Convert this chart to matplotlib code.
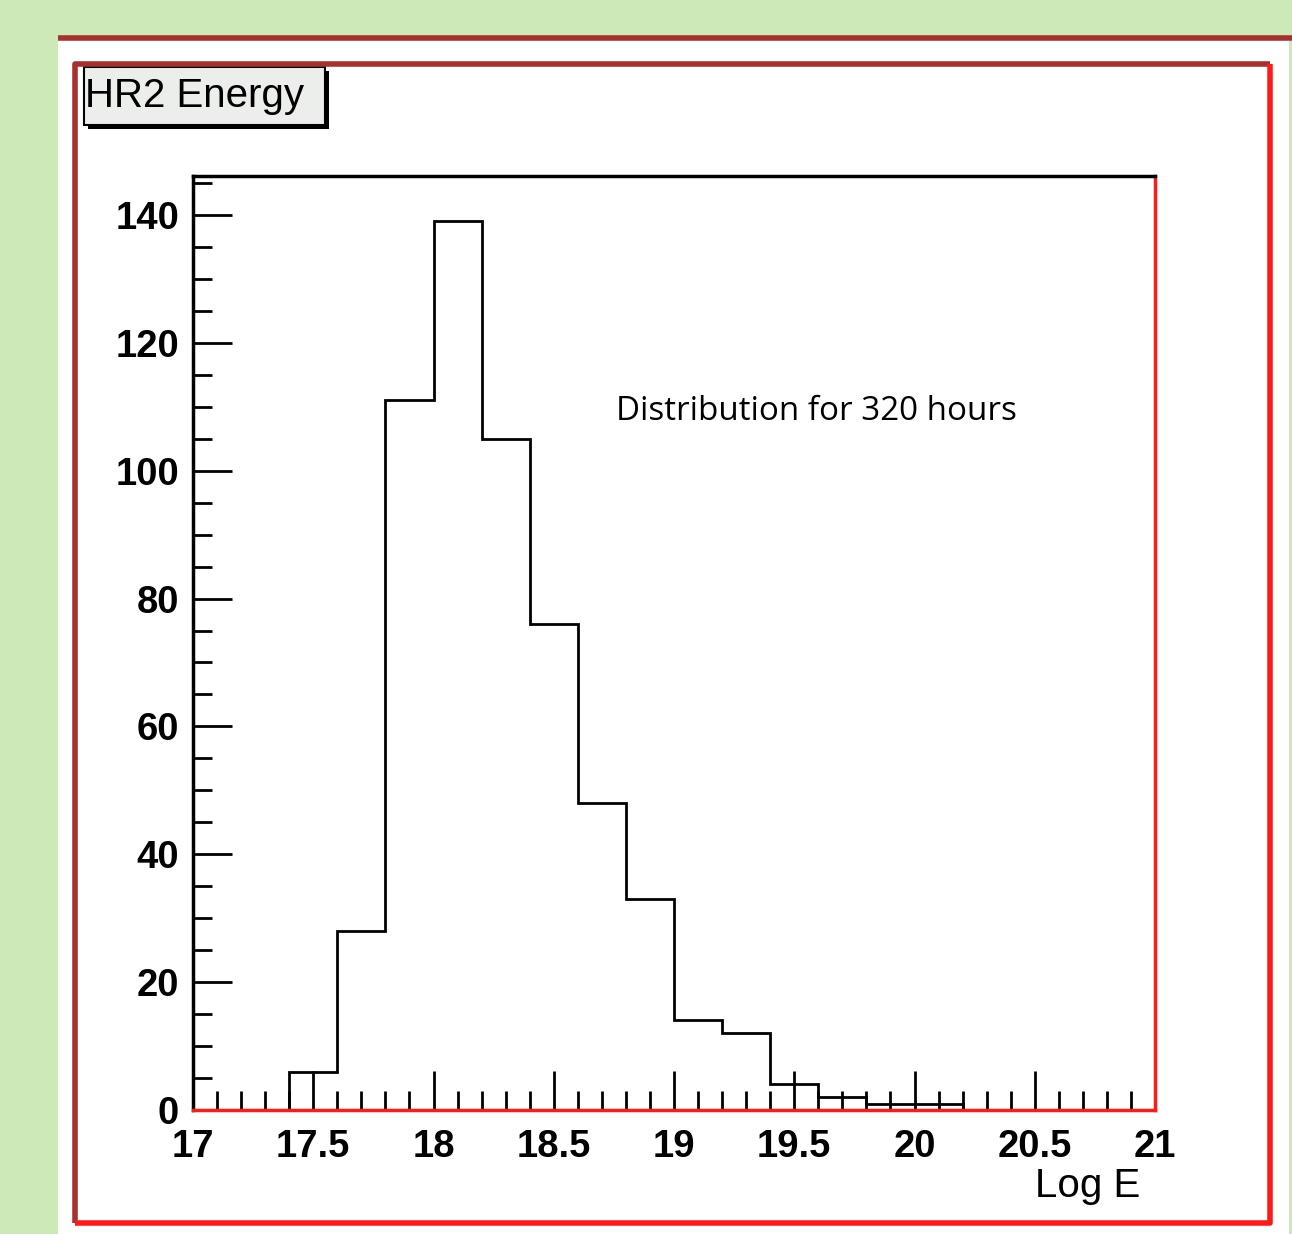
import numpy as np
import matplotlib.pyplot as plt
from matplotlib.patches import Rectangle
from matplotlib.ticker import MultipleLocator

# histogram of log energy, bins of 0.2
bin_edges = [17.4, 17.6, 17.8, 18.0, 18.2, 18.4, 18.6, 18.8, 19.0,
             19.2, 19.4, 19.6, 19.8, 20.0, 20.2]
counts = [6, 28, 111, 139, 105, 76, 48, 33, 14, 12, 4, 2, 1, 1]

title = 'HR2 Energy'
note = 'Distribution for 320 hours'
xlabel = 'Log E'

W, H = 1292, 1234
fig = plt.figure(figsize=(W / 100, H / 100), dpi=100)
fig.patch.set_facecolor('#cde9b8')

# page decoration in pixel coords
bg = fig.add_axes([0, 0, 1, 1])
bg.set_xlim(0, W)
bg.set_ylim(H, 0)
bg.axis('off')
bg.add_patch(Rectangle((58, 37), 1231, H - 37, facecolor='white', edgecolor='none'))
bg.plot([58, W], [37.5, 37.5], color='#a8302e', lw=4, solid_capstyle='butt')
bg.plot([74.5, 74.5, 1269.5], [1222.5, 63.5, 63.5], color='#a8302e', lw=4, solid_capstyle='butt')
bg.plot([1269.5, 1269.5, 74.5], [63.5, 1222.5, 1222.5], color='#ff1a1a', lw=4, solid_capstyle='butt')
# title box with shadow
bg.add_patch(Rectangle((88, 71), 241, 58, facecolor='black', edgecolor='none'))
bg.add_patch(Rectangle((84, 67), 241, 58, facecolor='#eceeeb', edgecolor='black', lw=1.5))
bg.text(85, 96, title, fontsize=29, family='Liberation Sans', va='center', ha='left')

ax = fig.add_axes([193 / W, 1 - 1110 / H, 962 / W, 934 / H])
ax.stairs(counts, bin_edges, color='black', lw=2)
ax.set_xlim(17, 21)
ax.set_ylim(0, 146.1)

for s in ['left', 'top']:
    ax.spines[s].set_color('black')
for s in ['bottom', 'right']:
    ax.spines[s].set_color('#ff1a1a')
for s in ax.spines.values():
    s.set_linewidth(2.5)

ax.xaxis.set_major_locator(MultipleLocator(0.5))
ax.xaxis.set_minor_locator(MultipleLocator(0.1))
ax.yaxis.set_major_locator(MultipleLocator(20))
ax.yaxis.set_minor_locator(MultipleLocator(5))
ax.tick_params(which='major', direction='in', length=28, width=2, color='black')
ax.tick_params(which='minor', direction='in', length=14, width=2, color='black')
ax.tick_params(axis='x', pad=14)
ax.tick_params(axis='y', pad=10)
ax.tick_params(top=False, right=False, which='both')

ax.set_xticks(np.arange(17, 21.01, 0.5))
ax.set_xticklabels(['17', '17.5', '18', '18.5', '19', '19.5', '20', '20.5', '21'])
for lab in ax.get_xticklabels() + ax.get_yticklabels():
    lab.set_fontsize(27.5)
    lab.set_family('Liberation Sans')
    lab.set_fontweight('bold')

ax.text(0.930, -0.081, xlabel, transform=ax.transAxes, fontsize=29,
        family='Liberation Sans', ha='center', va='center')
ax.text(0.440, 0.748, note, transform=ax.transAxes, fontsize=23.9,
        family='Open Sans', ha='left', va='center')

fig.savefig('out.png', dpi=100, facecolor=fig.get_facecolor())
